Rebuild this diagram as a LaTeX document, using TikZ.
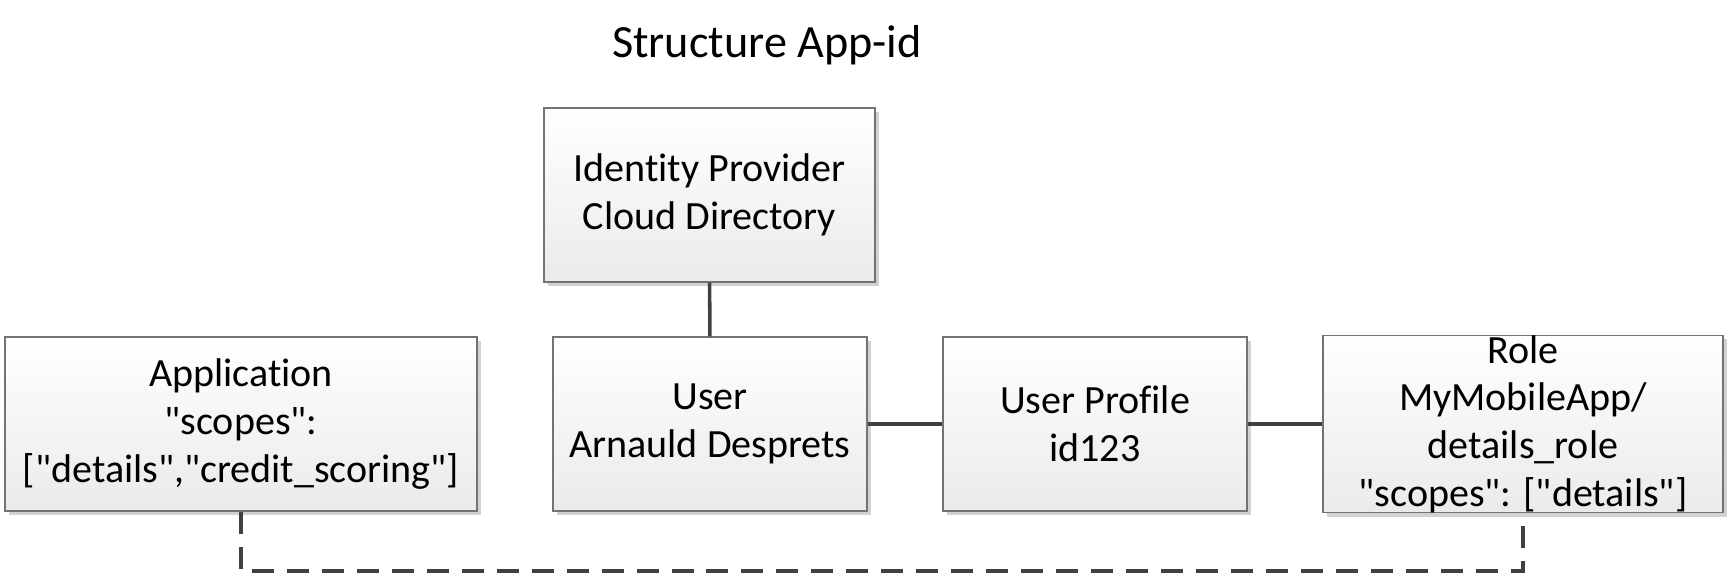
\documentclass[tikz,border=0pt]{standalone}
\usepackage{fontspec}
\setmainfont[Ligatures=TeXOff, RawFeature={-liga;-clig;-calt;-dlig}]{Carlito}
\usetikzlibrary{shadows}

\tikzset{
  entity/.style={draw=gray!90!black, line width=0.7pt, top color=white, bottom color=gray!16,
    align=center, inner sep=0pt, minimum height=3.48cm,
    font=\fontsize{22.8}{27.2}\selectfont,
    drop shadow={shadow xshift=0.08cm, shadow yshift=-0.08cm, fill=gray!35, opacity=1}},
  link/.style={draw=black!75, line width=2pt},
  dashlink/.style={link, dash pattern=on 0.44cm off 0.26cm}
}

\begin{document}
\begin{tikzpicture}[x=0.02cm, y=-0.02cm]
\useasboundingbox (0,0) rectangle (1731,575);

%Title
\node (title) at (767,45) {\fontsize{26.3}{30}\selectfont Structure App-id};

%Identity provider box
\node [entity, minimum width=6.62cm] (idp) at (709.5,195) {Identity Provider\\Cloud Directory};

%Lower row of boxes
\node [entity, minimum width=9.44cm] (app) at (241,424) {Application\\"scopes":\\{}["details","credit\_scoring"]};
\node [entity, minimum width=6.28cm] (user) at (710,424) {User\\Arnauld Desprets};
\node [entity, minimum width=6.08cm] (profile) at (1095,424) {User Profile\\id123};
\node [entity, minimum width=8cm] (role) at (1523,424) {Role\\MyMobileApp/\\details\_role\\"scopes": {}["details"]};

%Solid links
\draw [link] (idp) -- (user);
\draw [link] (user) -- (profile);
\draw [link] (profile) -- (role);

%Dashed link underneath
\coordinate (dashy) at (0,571);
\draw [dashlink] (app.south) -- (app.south |- dashy) -| (role.south);

\end{tikzpicture}
\end{document}
